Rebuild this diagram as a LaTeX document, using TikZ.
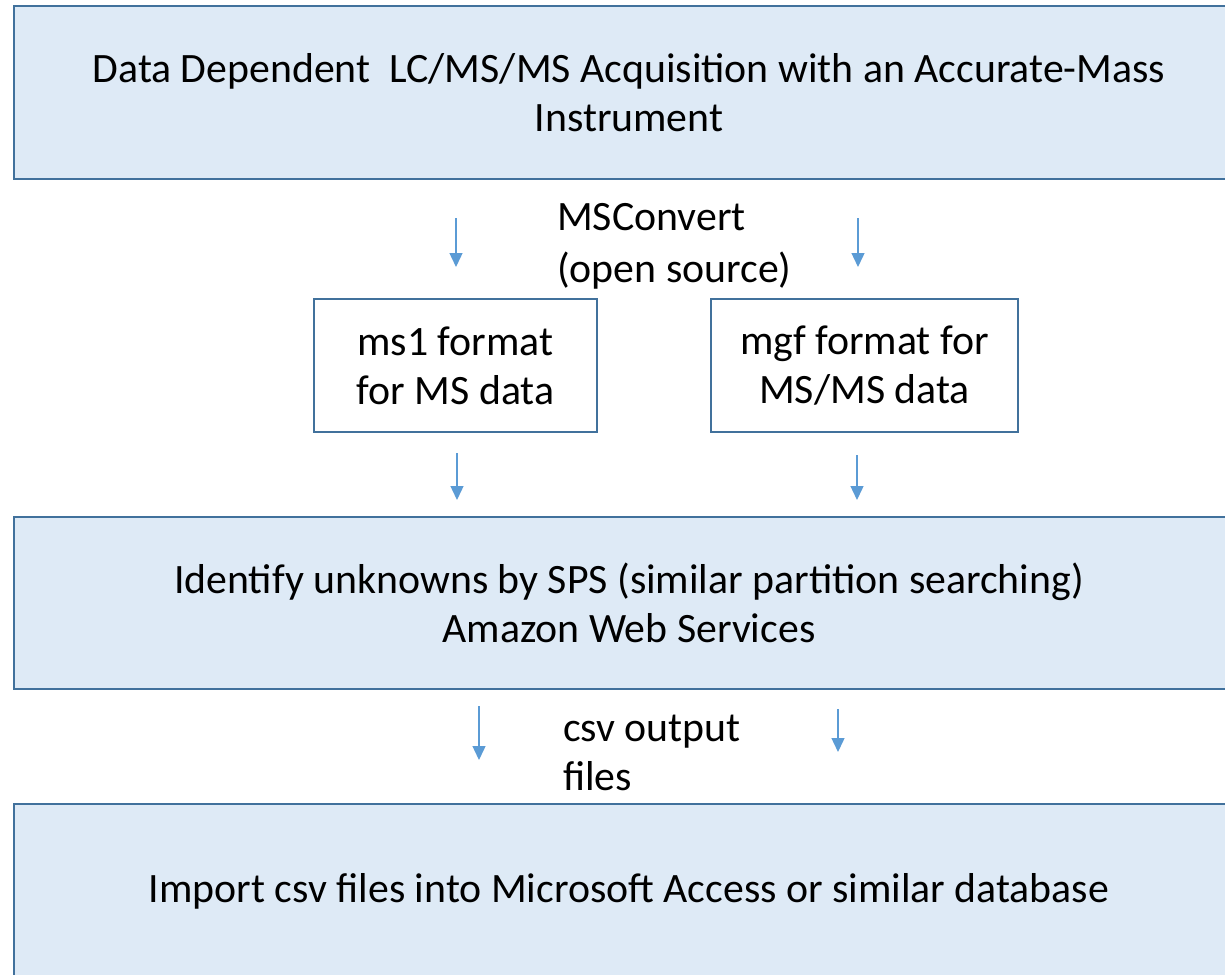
\documentclass[tikz,border=0pt]{standalone}
\usepackage{fontspec}
\setmainfont{Carlito}
\usetikzlibrary{arrows.meta}
\definecolor{boxfill}{HTML}{DEEAF6}
\definecolor{boxdraw}{HTML}{41719C}
\definecolor{arrowc}{HTML}{5B9BD5}
\tikzset{
  txt/.style={font=\fontsize{41.8}{49}\selectfont, text=black},
  bigbox/.style={txt, draw=boxdraw, fill=boxfill, line width=2.5pt, align=center, inner sep=0pt},
  smallbox/.style={txt, draw=boxdraw, fill=white, line width=1.8pt, align=center, inner sep=0pt},
  lbl/.style={txt, align=left, inner sep=0pt, anchor=west},
  flow/.style={draw=arrowc, line width=1.4pt, -{Triangle[length=14pt,width=13pt]}}
}
\begin{document}
\begin{tikzpicture}[x=1pt,y=-1pt]
\useasboundingbox (0,0) rectangle (1225,974);
\clip (0,0) rectangle (1225,974);
\node[bigbox, minimum width=1230pt, minimum height=173pt] (acq) at (629,92.5)
  {Data Dependent\ \ LC/MS/MS Acquisition with an Accurate-Mass\\Instrument};
\node[smallbox, minimum width=283pt, minimum height=133pt] (ms1) at (455.5,365.5)
  {ms1 format\\for MS data};
\node[smallbox, minimum width=307pt, minimum height=133pt] (mgf) at (864.5,365.5)
  {mgf format for\\MS/MS data};
\node[bigbox, minimum width=1230pt, minimum height=172pt] (sps) at (629,603)
  {Identify unknowns by SPS (similar partition searching)\\Amazon Web Services};
\node[bigbox, minimum width=1230pt, minimum height=174pt] (imp) at (629,891)
  {Import csv files into Microsoft Access or similar database};
\node[lbl, font=\fontsize{41.8}{52}\selectfont] (msc) at (557,246) {MSConvert\\(open source)};
\node[lbl] (csv) at (563,753) {csv output\\files};
% free arrows
\coordinate (a1s) at (456,218); \coordinate (a1e) at (456,267);
\coordinate (a2s) at (858,218); \coordinate (a2e) at (858,267);
\coordinate (a3s) at (457,453); \coordinate (a3e) at (457,500);
\coordinate (a4s) at (857,455); \coordinate (a4e) at (857,500);
\coordinate (a5s) at (479,706); \coordinate (a5e) at (479,760);
\coordinate (a6s) at (838,709); \coordinate (a6e) at (838,752);
\draw[flow] (a1s) -- (a1e);
\draw[flow] (a2s) -- (a2e);
\draw[flow] (a3s) -- (a3e);
\draw[flow] (a4s) -- (a4e);
\draw[flow] (a5s) -- (a5e);
\draw[flow] (a6s) -- (a6e);
\end{tikzpicture}
\end{document}
